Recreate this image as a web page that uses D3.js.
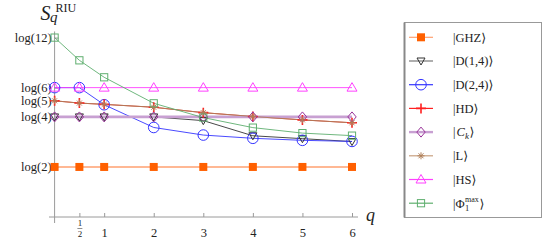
<!DOCTYPE html>
<html><head><meta charset="utf-8">
<script src="https://cdn.jsdelivr.net/npm/d3@7"></script>
<style>
html,body{margin:0;padding:0;background:#fff;}
svg{display:block;}
svg text{font-family:"Liberation Serif","Times New Roman",Times,"DejaVu Serif",serif !important;}
</style></head>
<body><svg id="c" width="557" height="251"></svg>
<script>
const qValues = [0, 0.5, 1, 2, 3, 4, 5, 6];
const L2 = Math.log(2), L4 = Math.log(4), L5 = Math.log(5), L6 = Math.log(6), L12 = Math.log(12);
const ghz = [L2, L2, L2, L2, L2, L2, L2, L2];
const d14 = [L4, L4, L4, L4, 1.335, 1.125, 1.085, 1.045];
const d24 = [L6, L6, 1.555, 1.24, 1.135, 1.09, 1.062, 1.047];
const hd  = [L5, 1.578, 1.56, 1.52, 1.445, 1.392, 1.345, 1.305];
const ck  = [L4, L4, L4, L4, L4, L4, L4, L4];
const lst = [L5, 1.578, 1.56, 1.52, 1.445, 1.392, 1.345, 1.305];
const hs  = [L6, L6, L6, L6, L6, L6, L6, L6];
const phi = [L12, 2.17, 1.935, 1.575, 1.377, 1.238, 1.162, 1.127];
const yTickValues = [L2, L4, L5, L6, L12];
const yTickLabels = ["log(2)", "log(4)", "log(5)", "log(6)", "log(12)"];
const xTickValues = [0.5, 1, 2, 3, 4, 5, 6];
const xTickLabels = ["1/2", "1", "2", "3", "4", "5", "6"];

const series = [
  {name:"GHZ", data:ghz, line:"#ffa070", lw:1.4, mark:"#ff6000", sym:"sqfill", lgLine:"#ffa070"},
  {name:"D14", data:d14, line:"#333333", lw:0.9, mark:"#333333", sym:"tridown", lgLine:"#777777"},
  {name:"D24", data:d24, line:"#3535ff", lw:0.9, mark:"#3535ff", sym:"circle", lgLine:"#3535ff"},
  {name:"HD",  data:hd,  line:"#e03020", lw:0.9, mark:"#ff2020", sym:"plus", lgLine:"#ff2020"},
  {name:"Ck",  data:ck,  line:"#c8a0d2", lw:2.6, mark:"#993399", sym:"diamond", lgLine:"#c8a0d2"},
  {name:"L",   data:lst, line:"#b07a58", lw:0.9, mark:"#b0805a", sym:"aster", lgLine:"#c8a080"},
  {name:"HS",  data:hs,  line:"#ff40ff", lw:0.9, mark:"#ff40ff", sym:"triup", lgLine:"#ff40ff"},
  {name:"Phi", data:phi, line:"#5faf6f", lw:0.9, mark:"#5faf6f", sym:"square", lgLine:"#5faf6f"}
];

const svg = d3.select("#c");
const x = d3.scaleLinear().domain([0, 6]).range([54.6, 352]);
const y = d3.scaleLinear().domain([0, 1]).range([217, 144.8]);
const axisCol = "#9a9a9a";

svg.append("line").attr("x1", 49).attr("x2", 358).attr("y1", y(0)).attr("y2", y(0)).attr("stroke", axisCol).attr("stroke-width", 1);
svg.append("line").attr("x1", x(0)).attr("x2", x(0)).attr("y1", y(2.57)).attr("y2", 223).attr("stroke", axisCol).attr("stroke-width", 1);

const ya = svg.append("g").attr("transform", `translate(${x(0)},0)`)
  .call(d3.axisLeft(y).tickValues(yTickValues).tickSize(-4).tickPadding(3)
    .tickFormat((d, i) => yTickLabels[i]));
ya.select(".domain").remove();
ya.selectAll(".tick line").attr("stroke", axisCol);
ya.selectAll(".tick text").attr("font-size", 12.5).attr("fill", "#222");

const xa = svg.append("g").attr("transform", `translate(0,${y(0)})`)
  .call(d3.axisBottom(x).tickValues(xTickValues).tickSize(-4).tickPadding(11)
    .tickFormat((d, i) => xTickLabels[i]));
xa.select(".domain").remove();
xa.selectAll(".tick line").attr("stroke", axisCol);
xa.selectAll(".tick text").attr("font-size", 12.5).attr("fill", "#222");
xa.selectAll(".tick").filter(d => d === 0.5).each(function() {
  const g = d3.select(this);
  g.select("text").remove();
  g.append("text").attr("x", 0).attr("y", 9).attr("text-anchor", "middle").attr("font-size", 9).attr("fill", "#222").text("1");
  g.append("line").attr("x1", -2.5).attr("x2", 2.5).attr("y1", 11.5).attr("y2", 11.5).attr("stroke", "#444").attr("stroke-width", 0.6);
  g.append("text").attr("x", 0).attr("y", 19.5).attr("text-anchor", "middle").attr("font-size", 9).attr("fill", "#222").text("2");
});

svg.append("text").attr("x", 40.5).attr("y", 19.5).attr("font-style", "italic").attr("font-size", 20).attr("fill", "#222").text("S");
svg.append("text").attr("x", 50).attr("y", 22).attr("font-style", "italic").attr("font-size", 15).attr("fill", "#222").text("q");
svg.append("text").attr("x", 55.5).attr("y", 11.5).attr("font-size", 12).attr("fill", "#222").text("RIU");
svg.append("text").attr("x", 366).attr("y", 221).attr("font-style", "italic").attr("font-size", 18).attr("fill", "#222").text("q");

function drawSym(g, sym, cx, cy, col, scale) {
  const k = scale || 1;
  if (sym === "sqfill") {
    g.append("rect").attr("x", cx - 4 * k).attr("y", cy - 4 * k).attr("width", 8 * k).attr("height", 8 * k).attr("fill", col);
  } else if (sym === "square") {
    g.append("rect").attr("x", cx - 3.6 * k).attr("y", cy - 3.6 * k).attr("width", 7.2 * k).attr("height", 7.2 * k).attr("fill", "none").attr("stroke", col).attr("stroke-width", 1);
  } else if (sym === "circle") {
    g.append("circle").attr("cx", cx).attr("cy", cy).attr("r", 5.3 * k).attr("fill", "none").attr("stroke", col).attr("stroke-width", 1);
  } else if (sym === "tridown") {
    g.append("path").attr("d", `M${cx - 4 * k},${cy - 3 * k}L${cx + 4 * k},${cy - 3 * k}L${cx},${cy + 4 * k}Z`).attr("fill", "none").attr("stroke", col).attr("stroke-width", 1);
  } else if (sym === "triup") {
    g.append("path").attr("d", `M${cx - 5 * k},${cy + 3.5 * k}L${cx + 5 * k},${cy + 3.5 * k}L${cx},${cy - 5 * k}Z`).attr("fill", "none").attr("stroke", col).attr("stroke-width", 1);
  } else if (sym === "diamond") {
    g.append("path").attr("d", `M${cx},${cy - 5 * k}L${cx + 4.2 * k},${cy}L${cx},${cy + 5 * k}L${cx - 4.2 * k},${cy}Z`).attr("fill", "none").attr("stroke", col).attr("stroke-width", 1);
  } else if (sym === "plus") {
    g.append("path").attr("d", `M${cx - 5 * k},${cy}L${cx + 5 * k},${cy}M${cx},${cy - 5 * k}L${cx},${cy + 5 * k}`).attr("stroke", col).attr("stroke-width", 1.6);
  } else if (sym === "aster") {
    let d = "";
    for (let a = 0; a < 4; a++) {
      const ang = a * Math.PI / 4;
      const dx = Math.cos(ang) * 3.5 * k, dy = Math.sin(ang) * 3.5 * k;
      d += `M${cx - dx},${cy - dy}L${cx + dx},${cy + dy}`;
    }
    g.append("path").attr("d", d).attr("stroke", col).attr("stroke-width", 1);
  }
}

const line = d3.line().x((d, i) => x(qValues[i])).y(d => y(d));
const plot = svg.append("g");
series.forEach(s => {
  plot.append("path").datum(s.data).attr("d", line).attr("fill", "none")
    .attr("stroke", s.line).attr("stroke-width", s.lw);
});
series.forEach(s => {
  const g = plot.append("g");
  s.data.forEach((v, i) => drawSym(g, s.sym, x(qValues[i]), y(v), s.mark));
});

const lg = svg.append("g");
lg.append("rect").attr("x", 404.5).attr("y", 22.5).attr("width", 137).attr("height", 195).attr("fill", "#fff").attr("stroke", "#999").attr("stroke-width", 1);
lg.append("line").attr("x1", 404.5).attr("x2", 404.5).attr("y1", 22.5).attr("y2", 217.5).attr("stroke", "#888").attr("stroke-width", 2);
const legendY = i => 37.3 + i * 23.7;
series.forEach((s, i) => {
  const yy = legendY(i);
  lg.append("line").attr("x1", 409).attr("x2", 433).attr("y1", yy).attr("y2", yy).attr("stroke", s.lgLine).attr("stroke-width", s.name === "Ck" ? 2.4 : 1.2);
  drawSym(lg, s.sym, 421, yy, s.mark);
});
function lgText(i, xx, txt, opts) {
  const o = opts || {};
  return lg.append("text").attr("x", xx).attr("y", legendY(i) + 4.3 + (o.dy || 0))
    .attr("font-size", o.size || 12.5).attr("font-style", o.italic ? "italic" : "normal")
    .attr("fill", "#222").text(txt);
}
lgText(0, 453, "|GHZ\u27E9");
lgText(1, 453, "|D(1,4)\u27E9");
lgText(2, 453, "|D(2,4)\u27E9");
lgText(3, 453, "|HD\u27E9");
lgText(4, 453, "|");
lgText(4, 456.5, "C", {italic:true});
lgText(4, 465, "k", {italic:true, size:9, dy:3});
lgText(4, 469.5, "\u27E9");
lgText(5, 453, "|L\u27E9");
lgText(6, 453, "|HS\u27E9");
lgText(7, 453, "|\u03A6");
lgText(7, 465, "1", {size:8.5, dy:3});
lgText(7, 465, "max", {size:8, dy:-5.5});
lgText(7, 479.5, "\u27E9");
</script></body></html>
